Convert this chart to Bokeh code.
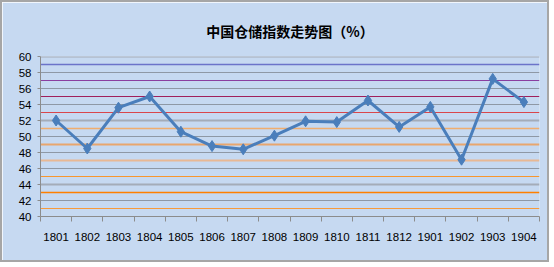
from bokeh.plotting import figure
from bokeh.models import Range1d, FixedTicker, ColumnDataSource
from bokeh.embed import file_html
from bokeh.resources import INLINE

categories = ["1801", "1802", "1803", "1804", "1805", "1806", "1807", "1808",
              "1809", "1810", "1811", "1812", "1901", "1902", "1903", "1904"]
values = [52.0, 48.5, 53.6, 55.0, 50.6, 48.8, 48.4, 50.1,
          51.9, 51.8, 54.5, 51.2, 53.7, 47.1, 57.2, 54.3]
y_ticks = [40, 42, 44, 46, 48, 50, 52, 54, 56, 58, 60]
grid_levels = [60, 59, 58, 57, 56, 55, 54, 53, 52, 51, 50, 49, 48, 47, 46, 45, 44, 43, 42, 41]

# styles for the grid lines (one per level above)
grid_colors = ["#a4acb8", "#6b73c9", "#8e98a5", "#8a3fa0", "#8e98a5", "#a0205c",
               "#8e98a5", "#d9464b", "#a4acb8", "#f0ad6e", "#8e98a5", "#e8a66e",
               "#8e98a5", "#e8b894", "#8e98a5", "#f7962e", "#a4acb8", "#ff8000",
               "#8e98a5", "#f79a3a"]
grid_widths = [2, 1.5, 1, 1, 1, 1, 1, 1, 2, 1.5, 1, 2, 1, 2, 1, 1, 2, 1.5, 1, 1]

BG = "#c6d9f1"

p = figure(width=549, height=262, output_backend="svg", toolbar_location=None,
           x_range=Range1d(0, len(categories)), y_range=Range1d(40, 60),
           background_fill_color=BG, border_fill_color=BG,
           min_border_left=38, min_border_right=12, min_border_top=54,
           min_border_bottom=48, title="中国仓储指数走势图（%）")
p.styles = {"border": "2px solid #a6a6a6"}
p.outline_line_color = None
p.title.align = "center"
p.title.text_font = "Noto Sans CJK SC"
p.title.text_font_size = "14px"
p.title.text_font_style = "bold"
p.title.text_color = "black"
p.title.standoff = 31

p.xgrid.visible = False
p.ygrid.visible = False

gsrc = ColumnDataSource(dict(y=grid_levels, c=grid_colors, w=grid_widths))
p.hspan(y="y", line_color="c", line_width="w", source=gsrc)

xs = [i + 0.5 for i in range(len(categories))]
src = ColumnDataSource(dict(x=xs, y=values))
p.line("x", "y", source=src, line_color="#4a7ebb", line_width=3)
p.scatter("x", "y", source=src, marker="diamond", size=11,
          fill_color="#4a7ebb", line_color="#4a7ebb")

xa = p.xaxis[0]
xa.ticker = FixedTicker(ticks=xs, minor_ticks=list(range(len(categories) + 1)))
xa.major_label_overrides = {x: c for x, c in zip(xs, categories)}
xa.major_tick_out = 0
xa.major_tick_in = 0
xa.minor_tick_out = 5
xa.minor_tick_in = 0
xa.minor_tick_line_color = "#8c8c8c"
xa.axis_line_color = "#8c8c8c"
xa.major_label_standoff = 11
xa.major_label_text_font = "Liberation Sans"
xa.major_label_text_font_size = "11.5px"
xa.major_label_text_color = "black"

ya = p.yaxis[0]
ya.ticker = FixedTicker(ticks=y_ticks)
ya.major_tick_out = 3
ya.major_tick_in = 0
ya.minor_tick_out = 0
ya.minor_tick_in = 0
ya.major_tick_line_color = "#8c8c8c"
ya.axis_line_color = "#8c8c8c"
ya.major_label_standoff = 6
ya.major_label_text_font = "Liberation Sans"
ya.major_label_text_font_size = "11.5px"
ya.major_label_text_color = "black"

open("out.html", "w").write(file_html(p, INLINE))
